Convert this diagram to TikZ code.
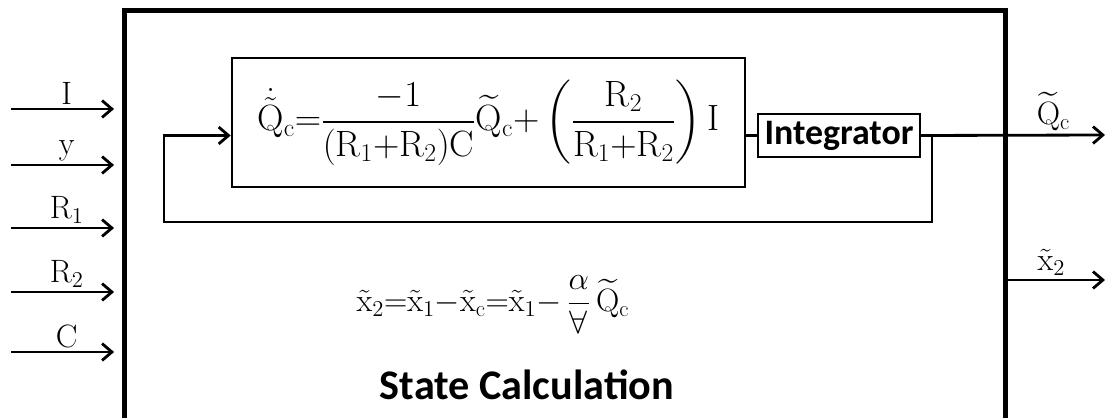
\documentclass[tikz,border=0pt]{standalone}
\usepackage{fix-cm}
\usepackage{amsmath}
\usepackage{fontspec}
\setsansfont{Carlito}
\usetikzlibrary{arrows.meta}
\usetikzlibrary{positioning}
\tikzset{
outer/.style={
	rectangle,
	draw=black,
	line width=3.4pt,
	minimum width=22cm,
	minimum height=10.25cm,
	inner sep=0pt
},
eqbox/.style={
	rectangle,
	draw=black,
	line width=1.8pt,
	minimum width=12.825cm,
	minimum height=3.225cm,
	inner sep=0pt,
	text centered,
	font=\fontsize{26}{30}\selectfont
},
intbox/.style={
	rectangle,
	draw=black,
	line width=1.6pt,
	minimum width=4.05cm,
	minimum height=1.075cm,
	inner sep=0pt,
	font=\sffamily\bfseries\fontsize{25.5}{28}\selectfont
},
arrow/.style={
	->,
	>={Straight Barb[length=7pt,width=12pt,line width=2pt]},
	draw=black,
	line width=2pt
},
line/.style={
	draw=black,
	line width=2pt
},
lbl/.style={
	font=\fontsize{23}{26}\selectfont,
	inner sep=2pt
}
}
\begin{document}
\begin{tikzpicture}[x=0.025cm, y=-0.025cm]
\useasboundingbox (0,0) rectangle (1109,418);
% ===== Blocks =====
\node (calc)  [outer]  at (565, 215.5) {};
\node (qdot)  [eqbox]  at (488.5, 122.5)
  {$\dot{\tilde{\mathrm{Q}}}_{\mathrm{c}}{=}\dfrac{-1}{(\mathrm{R}_1{+}\mathrm{R}_2)\mathrm{C}}\widetilde{\mathrm{Q}}_{\mathrm{c}}{+}\left(\dfrac{\mathrm{R}_2}{\mathrm{R}_1{+}\mathrm{R}_2}\right)\mathrm{I}$};
\node (integ) [intbox] at (839, 135.5) {Integrator};
\node (xeq)   [lbl] at (493, 305)
  {$\tilde{\mathrm{x}}_2{=}\tilde{\mathrm{x}}_1{-}\tilde{\mathrm{x}}_{\mathrm{c}}{=}\tilde{\mathrm{x}}_1{-}\,\dfrac{\alpha}{\forall}\,\widetilde{\mathrm{Q}}_{\mathrm{c}}$};
\node (title) [font=\sffamily\bfseries\fontsize{30}{34}\selectfont] at (527, 385) {State Calculation};
% ===== Free ends =====
\coordinate (inI)  at (11, 109);
\coordinate (inY)  at (11, 165);
\coordinate (inR1) at (11, 228);
\coordinate (inR2) at (11, 292);
\coordinate (inC)  at (11, 352);
\coordinate (outQ) at (1105, 135);
\coordinate (outX) at (1105, 280);
\coordinate (fbR)  at (932, 222);
\coordinate (fbL)  at (164, 222);
% ===== Inputs =====
\draw [arrow, shorten >=6pt] (inI)  -- node[lbl, above] {$\mathrm{I}$}   (calc.west |- inI);
\draw [arrow, shorten >=6pt] (inY)  -- node[lbl, above] {$\mathrm{y}$}   (calc.west |- inY);
\draw [arrow, shorten >=6pt] (inR1) -- node[lbl, above] {$\mathrm{R}_1$} (calc.west |- inR1);
\draw [arrow, shorten >=6pt] (inR2) -- node[lbl, above] {$\mathrm{R}_2$} (calc.west |- inR2);
\draw [arrow, shorten >=6pt] (inC)  -- node[lbl, above] {$\mathrm{C}$}   (calc.west |- inC);
% ===== Loop =====
\draw [line] (qdot.east |- integ.west) -- (integ.west);
\draw [arrow] (integ.east) -- node[lbl, above, pos=0.72] {$\widetilde{\mathrm{Q}}_{\mathrm{c}}$} (outQ);
\draw [arrow] (integ.east -| fbR) -- (fbR) -- (fbL) |- (qdot.west |- integ.west);
% ===== Second output =====
\draw [arrow] (calc.east |- outX) -- node[lbl, above, pos=0.45] {$\tilde{\mathrm{x}}_2$} (outX);
\end{tikzpicture}
\end{document}
